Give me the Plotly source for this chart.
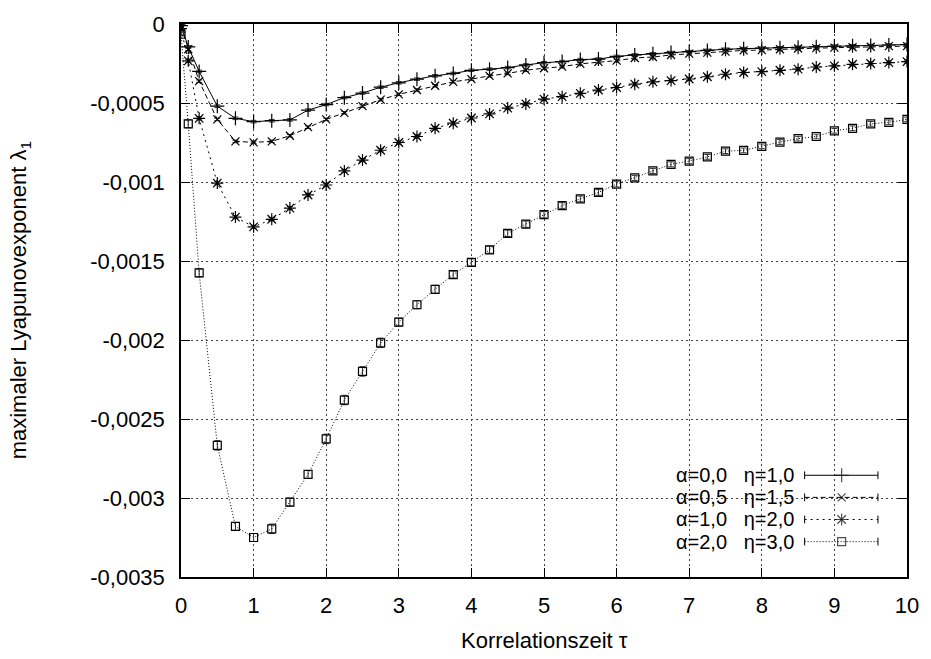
import plotly.graph_objects as go

# ---- data (lambda values in units of 1e-4) ----
SCALE = 1e-4
tau = [0, 0.1] + [0.25 * k for k in range(1, 41)]

lam_a00 = [-0.10, -1.45, -3.00, -5.20, -5.97, -6.18, -6.12, -6.07, -5.45, -5.10,
           -4.66, -4.37, -4.00, -3.72, -3.49, -3.28, -3.13, -2.93, -2.86, -2.76,
           -2.59, -2.45, -2.38, -2.25, -2.22, -2.05, -1.96, -1.88, -1.81, -1.75,
           -1.67, -1.60, -1.56, -1.53, -1.50, -1.47, -1.44, -1.40, -1.38, -1.36,
           -1.33, -1.30]
lam_a05 = [-0.15, -1.60, -3.62, -6.04, -7.43, -7.49, -7.43, -7.07, -6.53, -6.04,
           -5.62, -5.20, -4.79, -4.45, -4.18, -3.91, -3.66, -3.49, -3.28, -3.13,
           -2.92, -2.80, -2.70, -2.52, -2.40, -2.32, -2.15, -2.09, -1.96, -1.88,
           -1.81, -1.75, -1.67, -1.65, -1.60, -1.55, -1.53, -1.50, -1.47, -1.44,
           -1.40, -1.40]
lam_a10 = [-0.29, -2.33, -5.97, -10.07, -12.22, -12.84, -12.36, -11.65, -10.82, -10.19,
           -9.30, -8.61, -7.99, -7.50, -7.12, -6.60, -6.28, -5.95, -5.69, -5.32,
           -5.06, -4.75, -4.60, -4.39, -4.18, -4.02, -3.81, -3.66, -3.58, -3.48,
           -3.34, -3.18, -3.07, -3.01, -2.93, -2.86, -2.72, -2.65, -2.55, -2.50,
           -2.44, -2.38]
lam_a20 = [-0.65, -6.32, -15.75, -26.67, -31.80, -32.50, -31.95, -30.26, -28.51, -26.26,
           -23.80, -21.99, -20.18, -18.87, -17.77, -16.79, -15.86, -15.09, -14.29, -13.25,
           -12.67, -12.07, -11.49, -11.07, -10.66, -10.13, -9.74, -9.30, -8.88, -8.68,
           -8.41, -8.05, -8.00, -7.74, -7.47, -7.26, -7.12, -6.76, -6.60, -6.32,
           -6.22, -6.04]

err_a00 = [0.08] * 42
err_a05 = [0.08] * 42
err_a10 = [0.10] * 42
err_a20 = [0.10, 0.25, 0.25, 0.30, 0.25, 0.25, 0.30, 0.25, 0.25, 0.30,
           0.30, 0.30, 0.30, 0.25, 0.25, 0.25, 0.22, 0.22, 0.22, 0.20,
           0.20, 0.20, 0.18, 0.18, 0.18, 0.18, 0.16, 0.16, 0.16, 0.16,
           0.15, 0.15, 0.15, 0.15, 0.15, 0.15, 0.15, 0.15, 0.15, 0.15,
           0.15, 0.15]

labels = ["α=0,0   η=1,0", "α=0,5   η=1,5", "α=1,0   η=2,0", "α=2,0   η=3,0"]

y_ticks = [0, -0.0005, -0.001, -0.0015, -0.002, -0.0025, -0.003, -0.0035]
y_ticktext = ["0", "-0,0005", "-0,001", "-0,0015", "-0,002", "-0,0025", "-0,003", "-0,0035"]
x_ticks = list(range(0, 11))

FONT = "Liberation Sans, Arial, sans-serif"

series = [
    (lam_a00, err_a00, "solid", "cross-thin", 10, "#000000"),
    (lam_a05, err_a05, "5px,3px", "x-thin", 8, "#000000"),
    (lam_a10, err_a10, "2px,4px", "asterisk-open", 10, "#000000"),
    (lam_a20, err_a20, "1px,2px", "square-open", 8, "#000000"),
]

fig = go.Figure()

for (vals, errs, dash, sym, msize, col), lab in zip(series, labels):
    fig.add_trace(go.Scatter(
        x=tau, y=[v * SCALE for v in vals],
        mode="lines+markers", name=lab, showlegend=False,
        line=dict(color=col, width=1, dash=dash),
        marker=dict(symbol=sym, size=msize, color=col, line=dict(width=1.2, color=col)),
        error_y=dict(type="data", array=[e * SCALE for e in errs], visible=True,
                     thickness=1, width=3, color="#333333"),
    ))

# ---- custom legend (text left of the sample, like gnuplot) ----
row_y = [0.1840, 0.1440, 0.1040, 0.0640]
x_txt = 0.846
sx = [0.859, 0.910, 0.960]
for (vals, errs, dash, sym, msize, col), lab, ry in zip(series, labels, row_y):
    fig.add_annotation(x=x_txt, y=ry, xref="paper", yref="paper", text=lab,
                       showarrow=False, xanchor="right", yanchor="middle",
                       borderpad=0,
                       font=dict(family=FONT, size=20, color="black"))
    fig.add_trace(go.Scatter(
        x=sx, y=[ry] * 3, xaxis="x2", yaxis="y2", mode="lines+markers",
        showlegend=False, hoverinfo="skip",
        line=dict(color=col, width=1, dash=dash),
        marker=dict(symbol=sym, size=[0, msize, 0], color=col, line=dict(width=1.2, color=col)),
        error_y=dict(type="data", array=[0.007, 0, 0.007], visible=True,
                     thickness=1, width=0, color=col),
    ))

axis_common = dict(
    showline=True, linecolor="black", linewidth=1.5, mirror="allticks",
    ticks="inside", ticklen=9, tickcolor="black", tickwidth=1,
    showgrid=True, gridcolor="#444444", gridwidth=1, griddash="2px,3px",
    zeroline=False, tickfont=dict(family=FONT, size=22, color="black"),
)

fig.update_layout(
    width=931, height=659,
    margin=dict(l=181, r=22, t=16, b=82),
    paper_bgcolor="white", plot_bgcolor="white",
    font=dict(family=FONT, size=22, color="black"),
    xaxis=dict(range=[0, 10], tickvals=x_ticks, ticklabelstandoff=8, **axis_common),
    yaxis=dict(range=[-0.0035, 0], tickvals=y_ticks, ticktext=y_ticktext,
               ticklabelstandoff=10, **axis_common),
    xaxis2=dict(range=[0, 1], overlaying="x", visible=False, fixedrange=True),
    yaxis2=dict(range=[0, 1], overlaying="y", visible=False, fixedrange=True),
    shapes=[dict(type="rect", xref="paper", yref="paper", x0=0.5756, x1=0.981,
                 y0=0.0, y1=0.205, fillcolor="white", line=dict(width=0), layer="between")],
)

fig.add_annotation(x=0.5, y=-0.115, xref="paper", yref="paper",
                   text="Korrelationszeit τ", showarrow=False, yanchor="middle",
                   font=dict(family=FONT, size=22, color="black"))
fig.add_annotation(x=-0.222, y=0.5, xref="paper", yref="paper",
                   text="maximaler Lyapunovexponent λ<sub>1</sub>", showarrow=False,
                   textangle=-90, xanchor="center", yanchor="middle",
                   font=dict(family=FONT, size=22, color="black"))

fig.write_html("out.html")
